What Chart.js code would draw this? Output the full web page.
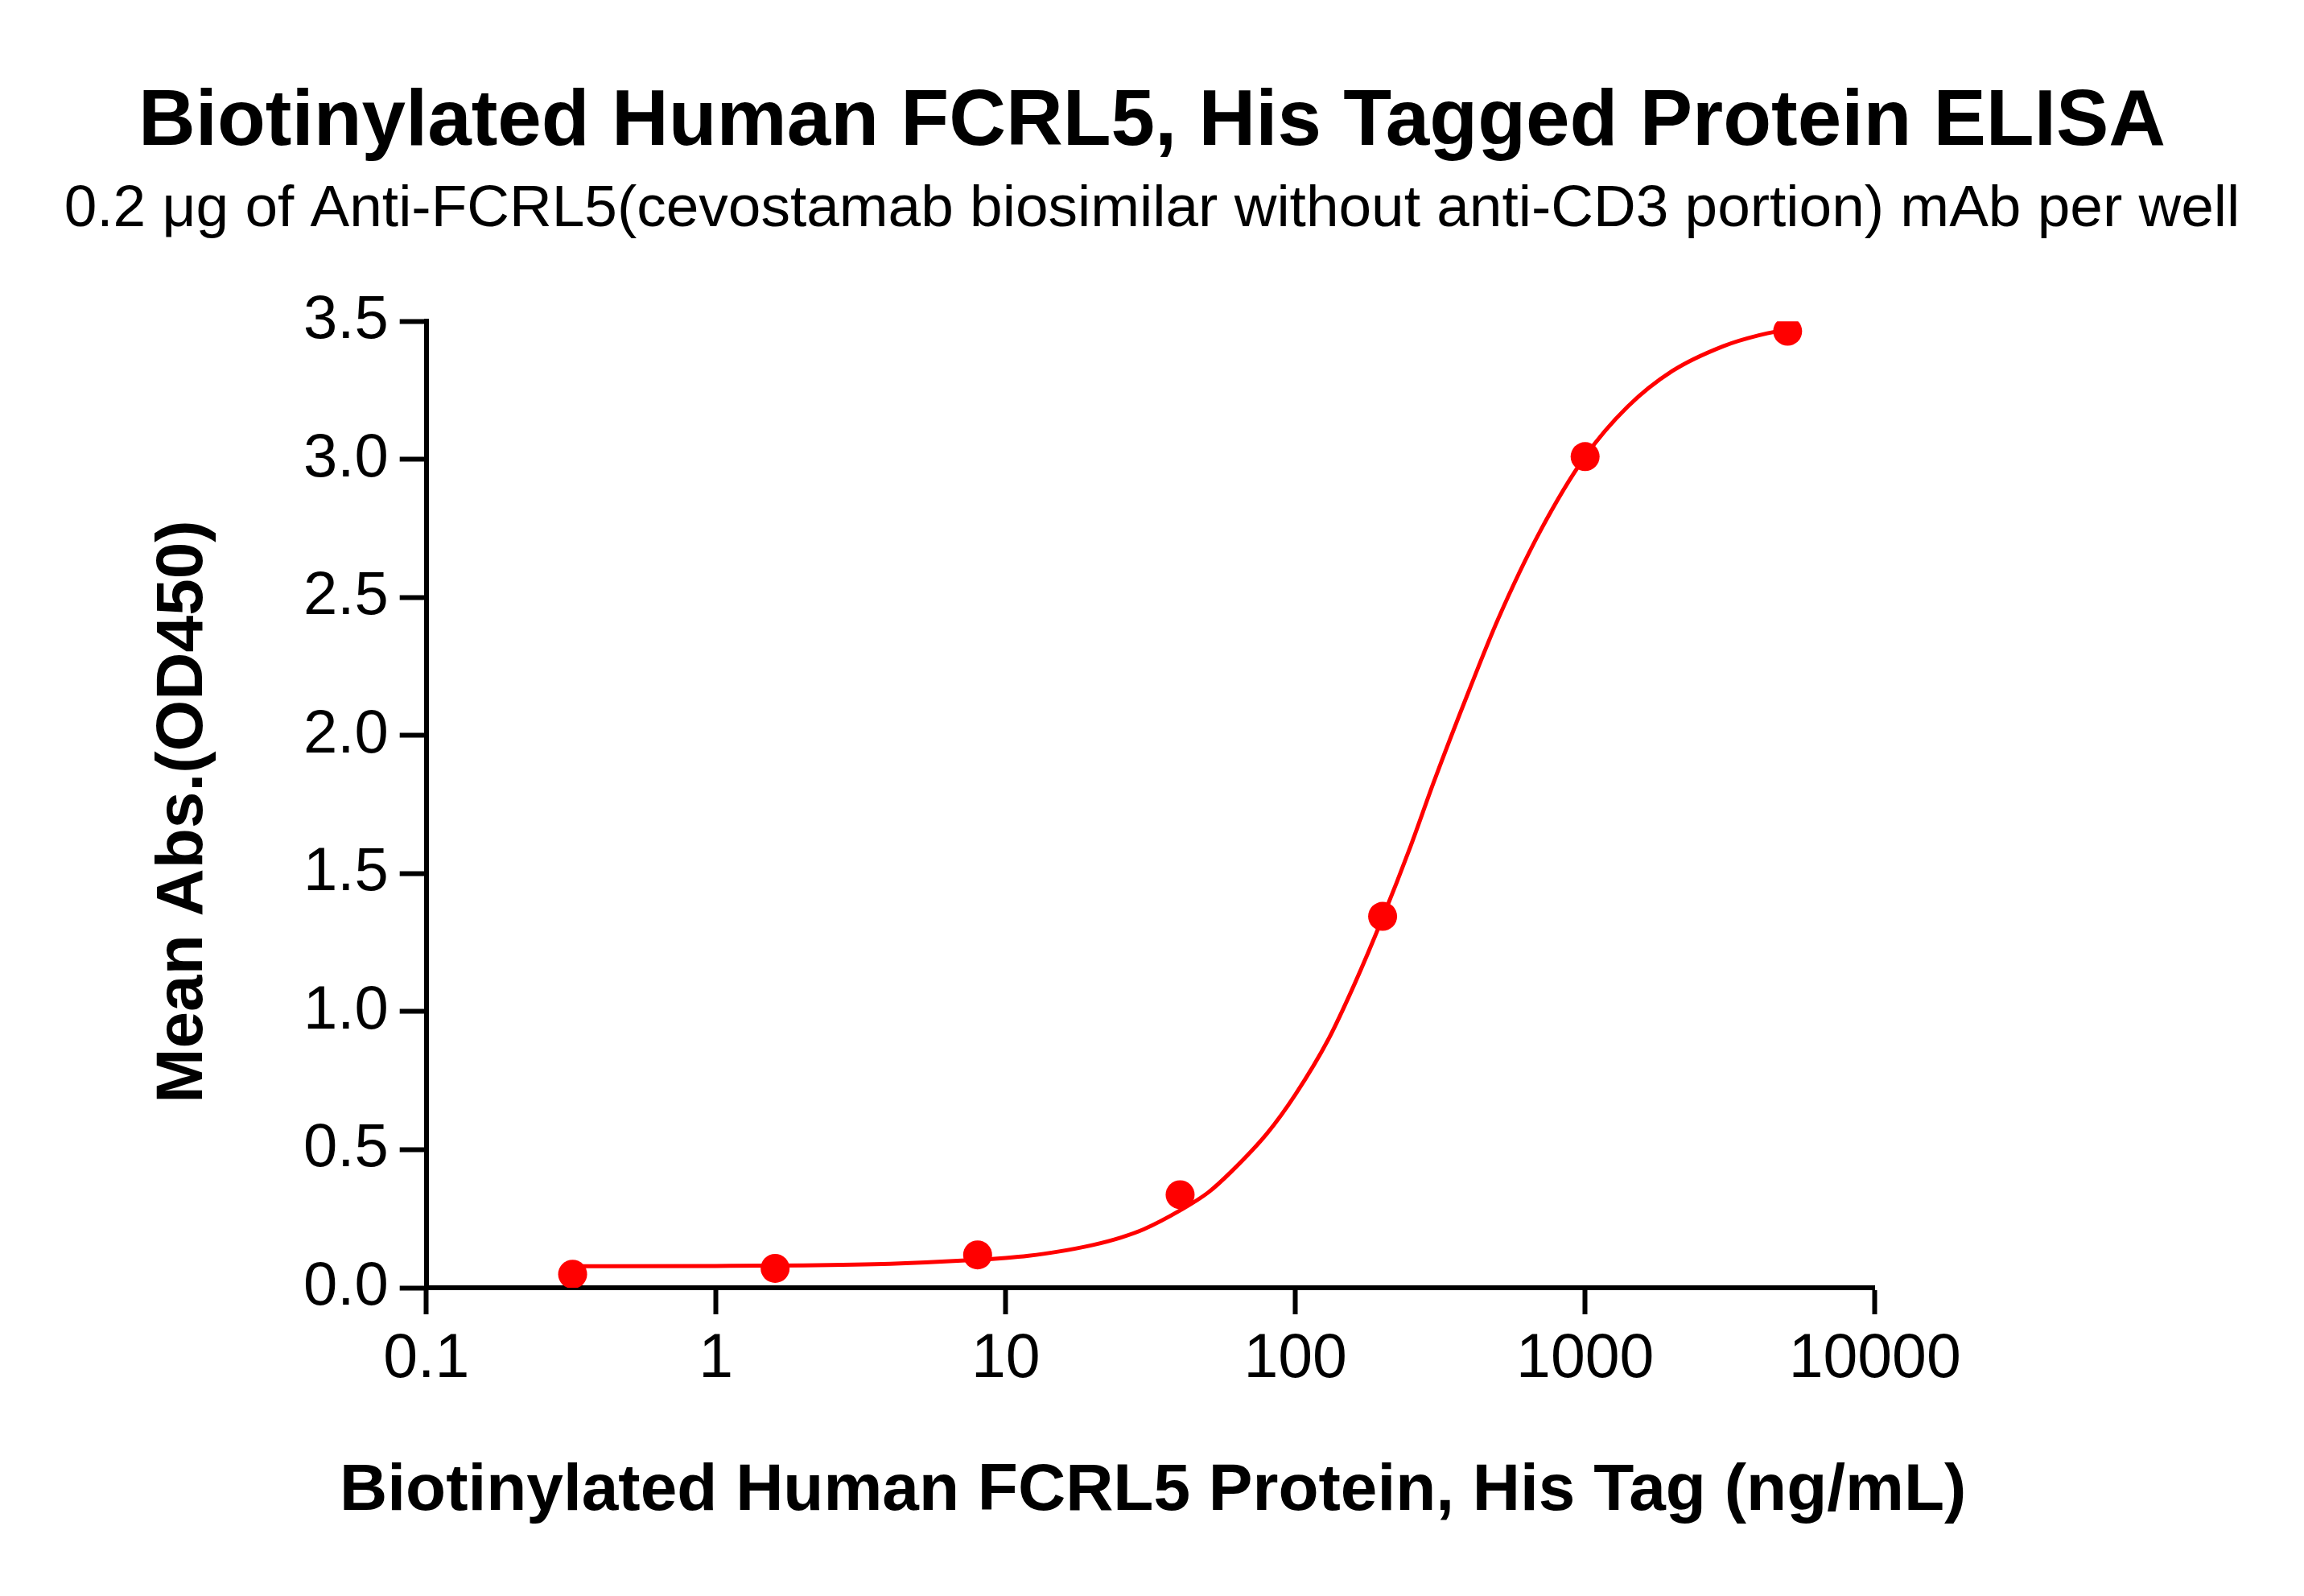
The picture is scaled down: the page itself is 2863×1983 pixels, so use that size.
<!DOCTYPE html>
<html>
<head>
<meta charset="utf-8">
<script src="https://cdn.jsdelivr.net/npm/chart.js@4.4.1/dist/chart.umd.min.js"></script>
<style>
  body { margin: 0; background: #fff; }
  canvas { display: block; }
</style>
</head>
<body>
<canvas id="elisa" width="2863" height="1983" style="width:2863px;height:1983px"></canvas>
<script>
// measured points (ng/mL vs OD450)
const concentrations = [0.32, 1.6, 8, 40, 200, 1000, 5000];
const meanAbs = [0.049, 0.070, 0.119, 0.337, 1.345, 3.01, 3.464];

// fitted curve
const curveX = [0.32, 1, 2, 4, 8, 10, 12, 15, 20, 25, 30, 40, 50, 60, 80, 100, 130, 160, 200, 250, 300, 400, 500, 700, 1000, 1400, 2000, 3000, 4000, 5000];
const curveY = [0.078, 0.079, 0.081, 0.087, 0.101, 0.108, 0.116, 0.130, 0.155, 0.182, 0.212, 0.28, 0.345, 0.42, 0.56, 0.70, 0.90, 1.10, 1.34, 1.60, 1.83, 2.17, 2.42, 2.74, 3.01, 3.19, 3.32, 3.41, 3.45, 3.47];

const xTicks = [0.1, 1, 10, 100, 1000, 10000];
const xTickLabels = ["0.1", "1", "10", "100", "1000", "10000"];

const xTitle = "Biotinylated Human FCRL5 Protein, His Tag (ng/mL)";
const yTitle = "Mean Abs.(OD450)";

const font = "'Liberation Sans', Arial, sans-serif";

// axis titles drawn by hand: the x one is wider than the plot (no maxWidth squeeze)
const axisTitlePlugin = {
  id: "axisTitles",
  afterDraw(chart) {
    const ctx = chart.ctx;
    const area = chart.chartArea;
    ctx.save();
    ctx.fillStyle = "#000";
    ctx.font = "bold 82px " + font;
    ctx.textAlign = "center";
    ctx.textBaseline = "middle";
    ctx.fillText(xTitle, (area.left + area.right) / 2 + 3, 1853);
    ctx.translate(228, (area.top + area.bottom) / 2 + 9);
    ctx.rotate(-Math.PI / 2);
    ctx.fillText(yTitle, 0, 0);
    ctx.restore();
  },
};

let myChart = new Chart(document.getElementById("elisa"), {
  type: "scatter",
  data: {
    datasets: [
      {
        label: "fit",
        data: curveX.map((x, i) => ({ x: x, y: curveY[i] })),
        showLine: true,
        borderColor: "#ff0000",
        borderWidth: 5,
        pointRadius: 0,
        cubicInterpolationMode: "monotone",
      },
      {
        label: "Mean Abs.",
        data: concentrations.map((x, i) => ({ x: x, y: meanAbs[i] })),
        backgroundColor: "#ff0000",
        borderColor: "#ff0000",
        pointRadius: 18,
        pointBorderWidth: 0,
      },
    ],
  },
  plugins: [axisTitlePlugin],
  options: {
    responsive: false,
    animation: false,
    devicePixelRatio: 1,
    layout: { padding: 0 },
    plugins: {
      legend: { display: false },
      tooltip: { enabled: false },
      title: {
        display: true,
        text: "Biotinylated Human FCRL5, His Tagged Protein ELISA",
        color: "#000",
        font: { family: font, size: 98, weight: "bold" },
        padding: { top: 94, bottom: 0 },
      },
      subtitle: {
        display: true,
        text: "0.2 \u03bcg of Anti-FCRL5(cevostamab biosimilar without anti-CD3 portion) mAb per well",
        color: "#000",
        font: { family: font, size: 73 },
        padding: { top: 5, bottom: 95 },
      },
    },
    scales: {
      x: {
        type: "logarithmic",
        min: 0.1,
        max: 10000,
        afterBuildTicks: (scale) => {
          scale.ticks = xTicks.map((v) => ({ value: v }));
        },
        afterFit: (scale) => {
          scale.height = 383;
        },
        ticks: {
          color: "#000",
          font: { family: font, size: 77 },
          padding: 11,
          maxRotation: 0,
          autoSkip: false,
          callback: (value) => {
            const idx = xTicks.indexOf(value);
            return idx >= 0 ? xTickLabels[idx] : "";
          },
        },
        grid: {
          drawOnChartArea: false,
          drawTicks: true,
          tickLength: 33,
          tickWidth: 6,
          tickColor: "#000",
        },
        border: { color: "#000", width: 6 },
        title: { display: false },
      },
      y: {
        min: 0,
        max: 3.5,
        afterFit: (scale) => {
          scale.width = 529.7;
        },
        ticks: {
          stepSize: 0.5,
          color: "#000",
          font: { family: font, size: 76 },
          padding: 14,
          callback: (value) => value.toFixed(1),
        },
        grid: {
          drawOnChartArea: false,
          drawTicks: true,
          tickLength: 33,
          tickWidth: 6,
          tickColor: "#000",
        },
        border: { color: "#000", width: 6 },
        title: { display: false },
      },
      // empty right-hand spacer so the plot ends where the reference does
      spacer: {
        type: "linear",
        position: "right",
        min: 0,
        max: 1,
        afterFit: (scale) => {
          scale.width = 533.3;
        },
        ticks: { display: false },
        grid: { display: false, drawTicks: false },
        border: { display: false },
        title: { display: false },
      },
    },
  },
});
</script>
</body>
</html>
